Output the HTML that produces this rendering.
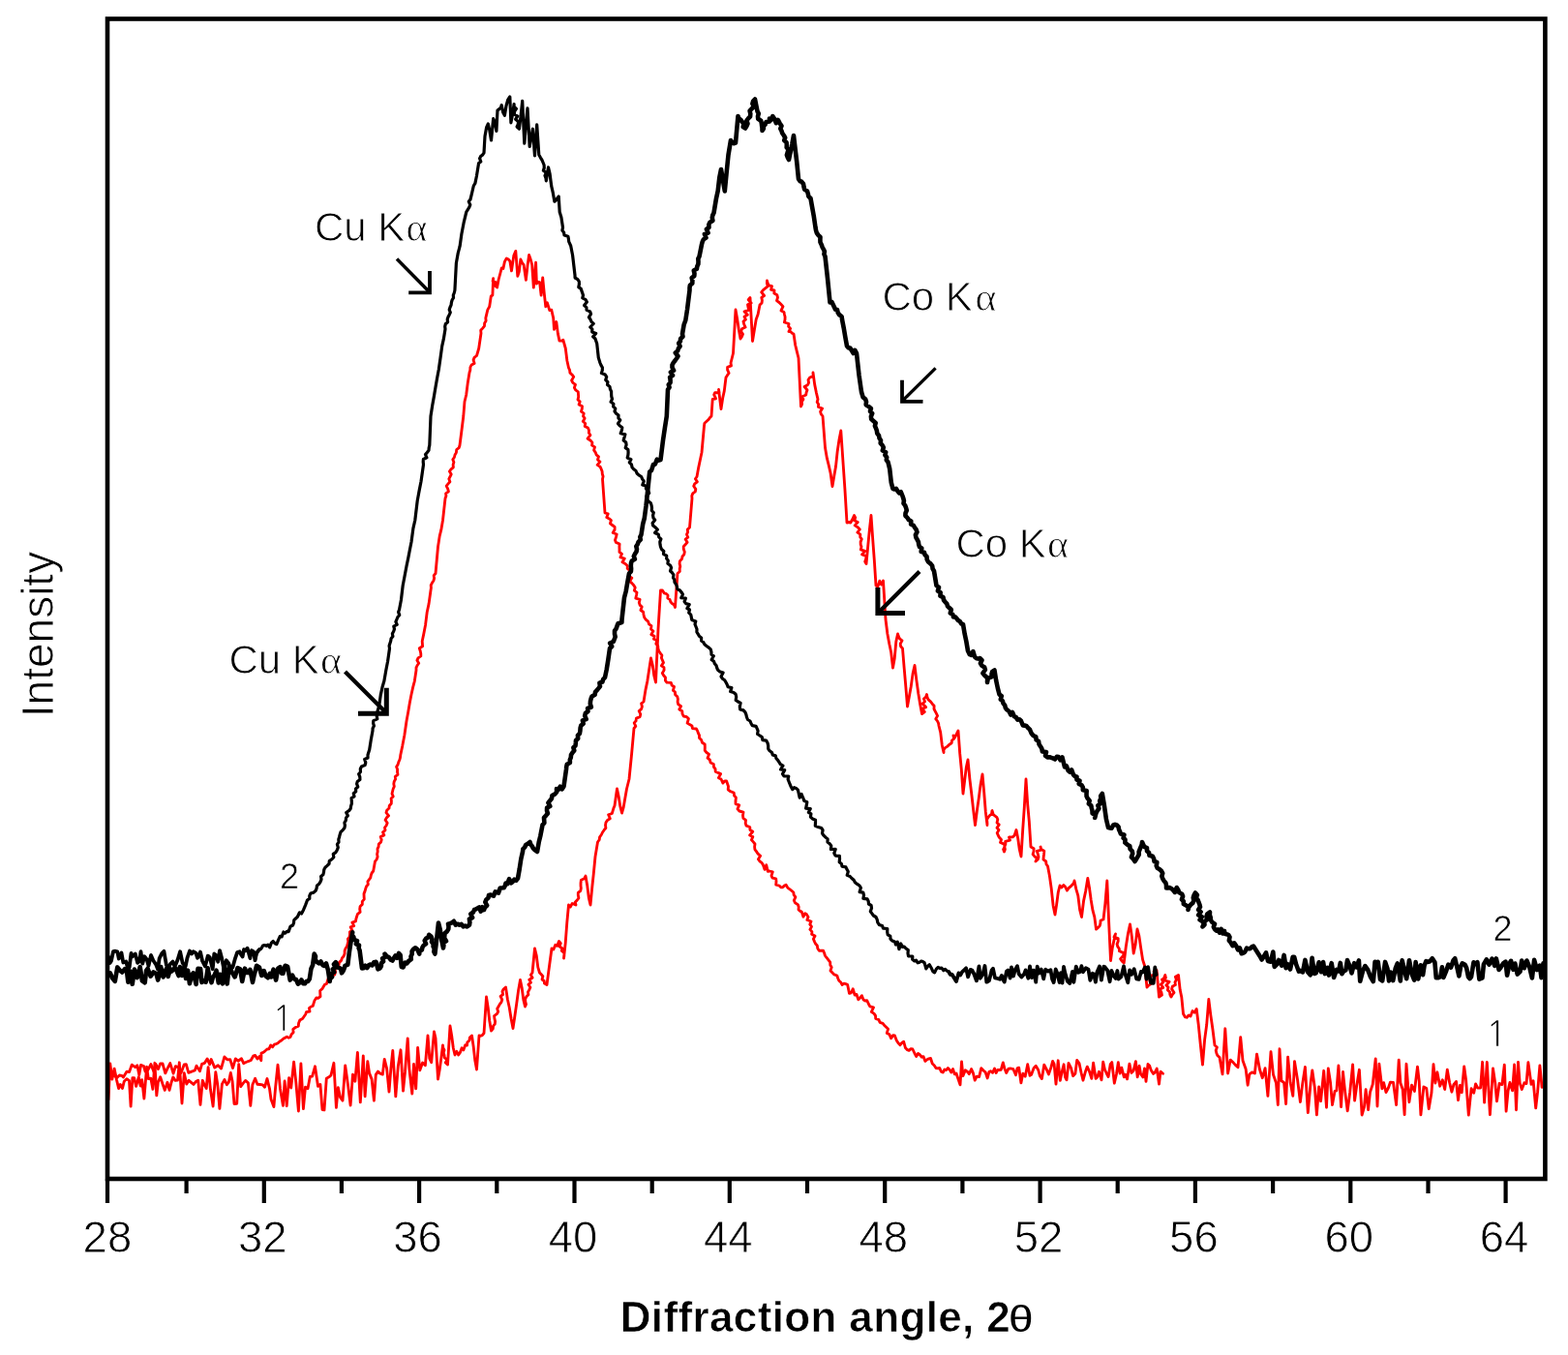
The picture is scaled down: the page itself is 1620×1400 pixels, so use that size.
<!DOCTYPE html>
<html><head><meta charset="utf-8"><style>
html,body{margin:0;padding:0;background:#fff;}
svg{display:block;}
</style></head><body>
<svg width="1620" height="1400" viewBox="0 0 1620 1400">
<rect width="1620" height="1400" fill="#fff"/>
<g fill="none" stroke-linejoin="round" stroke-linecap="round">
<path d="M112.0,1136.2 113.8,1098.9 115.8,1115.1 118.1,1104.1 120.6,1116.1 122.6,1124.6 124.3,1120.5 126.5,1124.5 128.3,1117.2 130.9,1114.8 133.5,1116.4 135.1,1143.1 136.9,1113.7 138.6,1113.6 140.6,1122.4 143.3,1112.8 145.2,1122.0 146.7,1115.7 148.9,1135.0 151.6,1102.3 153.3,1114.6 155.8,1114.1 157.9,1125.4 159.9,1098.3 161.8,1131.8 163.3,1118.3 165.6,1112.8 168.1,1120.3 170.3,1126.4 173.0,1118.3 175.0,1126.4 177.0,1118.5 178.8,1112.9 181.1,1116.4 183.5,1116.2 185.3,1097.8 188.0,1140.0 190.3,1108.7 192.8,1120.1 195.1,1116.3 197.5,1118.3 200.0,1120.4 202.3,1117.6 204.7,1116.2 207.0,1141.3 209.3,1116.3 211.0,1120.6 213.2,1124.6 215.1,1102.6 217.5,1125.8 220.1,1143.0 222.8,1107.7 224.8,1120.6 226.9,1145.3 229.4,1120.1 232.0,1115.5 234.4,1120.7 236.3,1118.2 238.3,1108.5 240.1,1117.4 242.0,1140.5 244.7,1140.3 246.7,1099.6 248.7,1122.7 251.3,1119.1 253.6,1116.4 256.4,1118.9 258.8,1142.4 260.9,1120.7 263.6,1114.2 265.9,1120.3 268.6,1120.5 271.3,1120.8 273.5,1123.3 276.0,1114.5 278.5,1124.8 280.0,1135.8 282.9,1143.6 284.6,1123.7 287.0,1100.2 289.5,1124.9 292.4,1142.3 294.1,1117.0 296.2,1142.7 298.6,1113.6 300.7,1124.0 303.6,1097.2 305.9,1119.3 308.4,1148.0 310.9,1098.9 313.4,1145.6 315.5,1123.1 318.0,1124.8 320.3,1112.4 322.6,1112.1 325.5,1101.8 328.5,1122.3 330.9,1120.4 333.0,1146.5 335.0,1146.9 337.3,1114.2 340.3,1112.6 342.0,1110.9 344.9,1098.3 347.4,1144.3 349.3,1123.6 351.6,1133.9 354.0,1137.2 356.7,1100.9 359.7,1122.4 362.1,1142.0 364.5,1110.2 366.9,1117.2 369.4,1087.4 372.3,1138.8 375.3,1090.9 377.1,1132.8 379.8,1096.6 381.6,1108.9 384.1,1115.1 386.4,1137.2 388.3,1110.4 390.5,1107.1 392.4,1108.9 395.3,1110.1 397.2,1094.4 399.6,1103.8 402.0,1128.0 403.9,1103.7 405.8,1085.5 408.8,1132.9 411.3,1101.8 414.0,1084.8 416.5,1127.1 418.5,1107.4 421.2,1072.9 422.9,1104.8 425.8,1130.0 427.5,1099.5 429.7,1124.8 431.6,1082.4 433.8,1105.8 436.6,1098.0 439.4,1100.7 442.0,1069.9 443.8,1093.7 445.7,1097.7 448.5,1066.0 450.0,1072.5 452.5,1115.0 454.2,1105.3 455.8,1093.5 457.5,1080.0 457.8,1082.6 459.0,1084.9 458.2,1087.8 459.0,1090.2 459.3,1092.8 462.0,1094.8 460.3,1097.9 462.5,1100.0 465.0,1060.0 466.7,1070.2 468.3,1082.7 470.0,1090.0 471.8,1086.3 473.6,1090.0 475.4,1087.4 477.1,1082.8 478.9,1084.9 480.7,1079.8 482.5,1080.0 482.8,1077.0 484.9,1074.9 485.4,1072.1 487.5,1070.0 489.2,1081.6 490.8,1095.8 492.5,1105.0 495.0,1070.0 496.7,1070.3 498.3,1069.6 500.0,1067.5 502.5,1030.0 504.2,1041.0 505.8,1055.0 507.5,1065.0 509.3,1062.8 509.6,1060.2 511.3,1058.0 511.6,1055.3 510.9,1052.4 510.6,1049.6 513.3,1047.7 514.7,1045.3 513.7,1042.3 515.0,1040.0 516.3,1037.6 518.0,1035.4 518.8,1032.9 517.1,1029.4 519.7,1027.5 519.0,1024.4 520.2,1022.0 522.5,1020.0 524.4,1032.5 526.2,1040.8 528.1,1052.5 530.0,1062.5 531.9,1049.7 533.8,1036.5 535.6,1023.3 537.5,1012.5 539.2,1020.8 540.8,1032.9 542.5,1040.0 543.5,1037.6 542.8,1034.8 542.7,1032.2 543.8,1029.8 545.9,1027.7 545.5,1025.0 546.8,1022.6 547.9,1020.2 546.0,1017.2 548.5,1015.1 546.8,1012.2 550.1,1010.2 548.4,1007.3 550.0,1005.0 552.5,980.0 554.2,987.0 555.8,999.4 557.5,1005.0 559.2,1006.8 560.9,1008.7 560.0,1012.0 562.2,1013.5 562.5,1016.1 565.0,1017.5 566.7,1004.4 568.3,992.5 570.0,980.0 571.9,980.9 573.8,976.3 575.6,977.3 577.5,972.5 579.3,974.7 577.8,977.8 580.8,979.7 580.3,982.5 582.8,984.5 582.9,987.2 582.5,990.0 584.2,974.3 585.8,953.1 587.5,935.0 589.4,936.9 591.2,933.5 593.1,934.1 595.0,935.0 594.2,932.2 596.3,930.0 597.9,927.8 597.3,925.0 597.3,922.4 599.8,920.3 600.3,917.8 600.0,915.1 600.0,912.5 600.4,909.2 603.7,907.7 605.0,905.0 606.7,914.7 608.3,927.7 610.0,935.0 611.7,917.5 613.3,902.6 615.0,885.0 617.5,870.0 619.2,867.7 619.6,864.8 621.3,862.5 622.5,860.0 624.1,857.7 625.9,855.5 625.5,852.5 626.0,849.8 627.5,847.5 630.3,845.8 628.6,841.8 632.3,840.5 633.1,837.8 633.9,835.1 635.0,832.5 637.5,815.0 639.2,823.0 640.8,833.2 642.5,840.0 644.2,834.0 645.8,824.7 647.5,815.0 650.0,805.0 652.5,780.0 655.0,752.5 656.8,750.3 655.2,746.9 657.1,744.8 657.4,742.1 661.1,740.6 661.8,738.0 660.2,734.6 662.6,732.6 663.4,730.1 662.6,726.9 665.0,725.0 666.9,713.1 668.8,704.0 670.6,692.1 672.5,680.0 674.2,687.0 675.8,698.2 677.5,705.0 680.0,650.0 682.5,610.0 684.4,610.0 686.2,612.8 688.1,613.3 690.0,615.0 689.8,618.0 692.0,619.4 692.8,621.8 694.5,623.7 696.6,625.2 697.5,627.5 700.0,592.5 702.3,590.5 702.2,587.7 702.8,585.2 702.1,582.3 702.4,579.7 704.5,577.6 705.0,575.0 706.8,572.8 707.3,570.3 706.3,567.4 706.2,564.7 708.2,562.5 710.1,560.3 708.2,557.2 710.8,555.2 709.5,552.2 710.6,549.8 710.3,547.1 712.5,545.0 715.0,515.0 714.8,512.3 715.7,509.9 718.3,507.9 718.8,505.4 716.7,502.3 717.7,499.9 720.4,497.8 718.4,494.8 720.0,492.5 721.7,483.1 723.3,475.5 725.0,467.5 727.5,440.0 727.9,437.2 729.8,435.5 731.7,433.8 733.2,431.8 735.0,430.0 736.2,412.5 739.6,411.8 737.7,407.8 738.6,405.7 743.1,405.7 742.5,402.5 745.0,422.5 746.7,411.2 748.3,403.9 750.0,390.0 751.5,387.7 753.1,385.5 751.6,382.2 751.6,379.4 755.5,377.9 755.0,375.0 757.5,365.0 760.0,320.0 761.7,329.7 763.3,340.5 765.0,350.0 766.5,347.7 767.5,345.3 765.6,342.2 766.6,339.8 770.1,338.0 768.7,335.0 768.0,332.2 770.4,330.2 769.0,327.2 772.3,325.3 769.1,321.9 773.8,320.4 773.0,317.6 772.5,314.8 776.1,313.0 773.2,309.7 775.0,307.5 777.5,352.5 779.4,340.8 781.2,329.9 783.1,324.8 785.0,315.0 787.1,312.9 787.4,310.3 786.8,307.4 789.6,305.5 786.7,301.9 788.5,299.7 791.0,297.7 793.4,295.7 792.4,292.7 792.5,290.0 793.2,292.6 794.3,294.9 797.5,295.7 796.6,299.4 800.0,300.0 799.8,303.0 802.8,304.7 803.5,307.3 802.5,310.6 805.0,312.5 807.0,314.6 809.0,316.7 807.0,320.9 810.0,322.5 810.5,325.0 811.1,327.5 811.0,330.2 810.4,333.0 815.0,334.5 814.6,337.3 816.6,339.4 815.0,342.5 816.7,342.6 818.3,344.2 820.0,345.0 821.7,356.5 823.3,363.2 825.0,370.0 827.5,420.0 828.6,417.6 828.4,414.9 829.9,412.6 829.0,409.7 832.7,408.0 833.1,405.4 834.0,403.0 831.1,399.5 834.5,397.7 835.6,395.4 835.0,392.5 836.7,390.0 840.1,388.7 840.0,385.0 841.7,397.4 843.3,405.3 845.0,412.5 844.2,415.4 845.7,417.7 845.4,420.5 849.6,422.0 847.6,425.3 848.3,427.8 850.0,430.0 852.5,462.5 854.4,473.4 856.2,480.7 858.1,489.0 860.0,502.5 861.8,491.8 863.5,482.1 865.2,466.2 867.0,454.2 868.8,445.0 870.8,474.5 872.9,505.1 875.0,540.0 876.9,539.5 878.8,540.0 880.6,536.8 882.5,532.5 883.7,534.8 882.7,537.7 886.2,539.5 883.2,542.9 886.2,544.8 888.3,547.0 885.9,550.1 888.8,552.1 888.7,554.8 890.3,557.0 889.1,559.9 889.2,562.6 890.0,565.0 889.3,567.9 893.6,569.4 890.6,572.9 894.7,574.5 894.8,577.1 893.7,580.2 895.0,582.5 896.7,564.6 898.3,547.8 900.0,532.5 901.7,557.2 903.3,578.6 905.0,605.0 906.9,606.1 908.8,600.2 910.6,604.0 912.5,600.0 915.0,640.0 916.9,655.0 918.8,665.3 920.6,673.7 922.5,690.0 924.2,680.6 925.8,662.9 927.5,655.0 928.3,657.5 929.5,659.9 932.0,661.8 930.2,665.2 930.6,667.8 932.5,670.0 934.2,690.7 935.8,709.2 937.5,730.0 939.4,719.5 941.2,709.5 943.1,695.9 945.0,687.5 946.9,702.9 948.8,716.5 950.6,727.4 952.5,737.5 955.3,735.5 953.0,732.3 956.6,730.6 953.0,727.0 955.5,725.0 954.5,722.1 956.7,719.9 957.5,717.5 958.0,720.4 959.1,722.9 961.4,724.9 963.2,727.2 965.1,729.3 965.0,732.5 966.2,734.9 967.4,737.2 968.6,739.6 966.8,742.8 968.5,745.0 969.6,747.4 970.0,750.0 971.7,756.7 973.3,770.0 975.0,777.5 975.0,774.6 976.5,772.6 979.0,771.1 980.8,769.2 983.2,767.7 983.5,765.0 985.6,763.3 985.0,760.0 986.7,761.7 988.3,758.4 990.0,755.0 991.7,778.4 993.3,794.8 995.0,820.0 996.7,806.0 998.3,792.8 1000.0,785.0 1001.9,804.8 1003.8,820.5 1005.6,836.7 1007.5,852.5 1009.4,837.5 1011.2,825.1 1013.1,810.4 1015.0,800.0 1016.7,818.6 1018.3,838.9 1020.0,852.5 1019.9,849.7 1019.6,846.8 1021.0,844.5 1022.7,842.3 1026.0,840.6 1025.0,837.5 1024.6,840.5 1027.2,842.4 1029.8,844.3 1030.8,846.8 1030.0,850.0 1032.2,852.1 1030.0,855.3 1032.0,857.5 1030.2,860.6 1031.2,863.0 1032.4,865.3 1034.5,867.5 1033.5,870.4 1037.4,872.1 1038.1,874.5 1036.6,877.6 1037.5,880.0 1038.4,877.5 1037.8,874.6 1038.9,872.1 1038.7,869.3 1043.5,868.1 1042.5,865.0 1044.4,864.8 1046.2,864.8 1048.1,863.2 1050.0,857.5 1051.7,866.2 1053.3,877.7 1055.0,885.0 1056.7,857.4 1058.3,834.2 1060.0,805.0 1061.7,831.1 1063.3,848.7 1065.0,875.0 1068.1,876.8 1068.0,879.6 1067.1,882.6 1068.9,884.8 1071.4,886.8 1070.0,890.0 1072.3,888.0 1073.0,885.4 1072.3,882.4 1071.3,879.3 1075.9,878.1 1075.0,875.0 1075.8,877.6 1078.8,879.3 1078.6,882.2 1078.2,885.2 1078.0,888.1 1080.7,890.0 1080.9,892.7 1082.5,895.0 1084.4,905.1 1086.2,917.9 1088.1,935.7 1090.0,945.0 1091.7,934.1 1093.3,921.8 1095.0,915.0 1096.9,917.0 1098.8,914.5 1100.6,916.3 1102.5,920.0 1103.8,917.9 1105.8,916.2 1107.5,914.4 1109.3,912.6 1110.0,910.0 1111.9,918.9 1113.8,925.3 1115.6,939.9 1117.5,947.5 1119.6,930.6 1121.7,920.6 1123.8,907.5 1125.5,917.2 1127.2,929.9 1129.0,940.7 1130.8,947.4 1132.5,960.0 1134.6,958.4 1136.2,956.6 1136.9,953.9 1137.1,951.0 1140.0,950.0 1141.9,933.3 1143.8,910.0 1145.6,952.0 1147.5,992.5 1149.2,979.8 1150.8,972.1 1152.5,965.0 1151.0,968.2 1155.2,969.6 1155.2,972.4 1154.1,975.4 1154.7,977.9 1156.3,980.2 1156.5,982.8 1160.5,984.4 1160.9,987.0 1157.6,990.6 1159.1,992.9 1161.2,995.0 1163.3,978.0 1165.4,964.7 1167.5,955.0 1169.4,967.9 1171.2,985.0 1173.1,975.9 1175.0,960.0 1176.9,967.1 1178.8,980.1 1180.6,991.6 1182.5,997.5 1185.0,1020.0 1186.8,1018.1 1189.2,1016.6 1187.8,1012.9 1188.6,1010.4 1189.2,1007.9 1193.6,1007.5 1192.1,1003.7 1195.0,1002.5 1197.5,1030.0 1200.4,1028.1 1199.9,1025.3 1198.1,1022.1 1201.7,1020.4 1199.4,1017.1 1201.7,1015.0 1200.5,1012.0 1204.4,1010.4 1203.8,1007.5 1202.6,1010.5 1203.2,1013.0 1208.1,1014.4 1204.9,1018.0 1207.0,1020.1 1206.4,1022.9 1208.6,1025.0 1208.8,1027.7 1210.0,1030.0 1211.3,1027.6 1213.0,1025.5 1210.6,1021.9 1211.3,1019.3 1214.4,1017.6 1214.0,1014.7 1215.4,1012.3 1214.4,1009.3 1217.5,1007.5 1219.2,1022.8 1220.8,1030.4 1222.5,1047.5 1224.4,1050.8 1226.2,1051.2 1228.1,1049.0 1230.0,1050.0 1232.1,1044.5 1234.2,1046.2 1236.2,1042.5 1238.3,1059.3 1240.4,1080.3 1242.5,1100.0 1244.6,1074.4 1246.7,1058.8 1248.8,1032.5 1250.8,1048.6 1252.9,1063.3 1255.0,1080.0 1257.4,1082.0 1256.2,1085.3 1256.8,1088.0 1257.8,1090.5 1260.0,1092.5 1263.0,1109.8 1265.8,1062.8 1268.6,1109.0 1271.2,1095.1 1273.6,1097.3 1276.2,1100.1 1279.0,1102.8 1281.7,1071.7 1284.0,1095.7 1287.1,1104.4 1289.1,1121.2 1290.9,1109.9 1293.6,1107.9 1296.4,1109.0 1298.5,1089.1 1301.5,1105.0 1304.3,1113.7 1307.1,1103.6 1309.9,1132.3 1313.0,1086.7 1315.5,1110.3 1318.5,1119.1 1320.3,1141.5 1322.0,1083.8 1323.9,1116.8 1326.6,1118.5 1328.6,1140.5 1330.6,1092.1 1333.1,1118.3 1335.8,1132.3 1337.5,1096.6 1340.6,1116.0 1343.4,1138.5 1345.7,1119.9 1348.4,1102.4 1351.3,1149.6 1354.1,1118.9 1355.8,1105.9 1358.4,1124.3 1360.4,1151.8 1362.6,1123.0 1364.6,1137.7 1367.7,1106.3 1370.5,1144.2 1372.3,1103.9 1374.5,1118.2 1376.5,1141.6 1379.1,1127.3 1380.9,1126.8 1382.9,1101.0 1385.6,1143.6 1387.5,1107.5 1389.7,1128.3 1392.2,1147.9 1394.7,1128.7 1397.6,1100.0 1399.6,1137.1 1401.7,1121.7 1404.4,1105.3 1407.1,1152.0 1409.4,1144.2 1411.1,1125.6 1413.6,1146.5 1415.5,1128.5 1418.2,1120.4 1421.2,1093.9 1423.0,1143.0 1424.9,1099.2 1427.9,1124.8 1429.6,1118.6 1432.0,1128.6 1434.4,1124.0 1436.4,1118.2 1439.5,1118.5 1442.6,1141.5 1445.2,1095.2 1446.9,1119.0 1449.2,1125.4 1451.1,1151.7 1453.0,1099.3 1455.9,1138.7 1458.5,1121.2 1461.4,1127.5 1464.5,1102.2 1466.2,1116.9 1467.9,1151.9 1470.9,1122.9 1473.8,1124.6 1476.2,1145.7 1479.0,1129.0 1481.0,1099.6 1482.9,1119.1 1484.9,1107.8 1487.7,1122.2 1490.3,1115.7 1492.7,1125.5 1495.3,1105.2 1497.6,1118.5 1499.9,1128.2 1501.9,1120.6 1504.5,1117.4 1506.5,1136.7 1508.4,1121.5 1510.2,1128.8 1512.7,1101.9 1514.6,1115.9 1517.3,1152.1 1520.1,1124.7 1522.7,1129.2 1524.6,1119.9 1526.7,1124.1 1529.6,1124.0 1531.6,1097.3 1533.6,1139.1 1536.3,1097.5 1539.4,1151.7 1542.5,1104.0 1544.8,1119.4 1546.5,1137.8 1549.1,1119.5 1551.9,1120.6 1554.3,1100.1 1556.1,1148.2 1558.1,1127.1 1559.9,1118.5 1562.6,1126.9 1564.6,1100.0 1566.5,1146.8 1568.5,1097.4 1570.2,1119.0 1572.3,1125.6 1574.9,1118.8 1577.0,1119.6 1578.9,1097.6 1582.0,1120.3 1584.1,1116.7 1586.7,1144.9 1588.6,1128.2 1590.9,1100.9 1593.1,1123.4" stroke="#ff0000" stroke-width="2.85"/>
<path d="M112.0,1110.3 113.6,1109.1 116.1,1108.9 117.9,1111.5 121.1,1113.3 123.4,1111.0 125.7,1111.3 127.4,1112.9 130.9,1107.2 133.6,1107.5 136.2,1100.1 139.8,1102.7 141.8,1100.8 143.8,1110.6 145.5,1100.4 148.5,1101.5 150.1,1107.0 152.8,1105.7 155.9,1099.6 159.2,1107.9 160.9,1099.4 163.5,1104.5 165.6,1099.0 168.0,1099.0 170.8,1108.8 172.7,1104.6 175.8,1098.6 179.1,1109.2 181.4,1101.7 184.7,1102.9 187.1,1108.5 190.3,1099.8 192.3,1099.6 194.8,1108.4 198.0,1107.2 201.3,1106.0 203.0,1101.2 206.5,1106.7 208.6,1099.4 211.5,1098.3 214.1,1093.9 216.6,1099.8 218.2,1094.5 221.8,1103.1 225.3,1100.8 228.5,1104.1 231.9,1091.9 234.8,1094.8 237.8,1094.7 240.5,1103.6 243.3,1093.9 246.0,1096.2 249.5,1093.8 251.7,1098.7 253.5,1097.8 257.1,1096.3 259.2,1095.5 261.9,1090.8 263.7,1090.4 265.9,1094.1 268.0,1091.6 269.8,1095.7 270.0,1088.0 272.0,1087.3 274.0,1085.8 276.0,1084.0 277.9,1083.8 279.7,1079.9 281.6,1081.8 283.4,1079.2 285.3,1078.6 287.1,1077.8 289.0,1076.0 290.8,1075.0 292.7,1073.3 294.5,1072.2 296.3,1071.3 298.2,1072.2 300.0,1071.4 301.1,1068.8 303.1,1066.8 302.8,1063.3 305.3,1061.5 308.3,1060.1 308.6,1057.0 309.8,1054.1 312.6,1052.5 314.3,1050.0 315.7,1048.0 316.5,1045.6 320.0,1045.0 319.4,1041.6 321.4,1040.0 323.2,1039.5 325.0,1033.7 326.8,1031.0 328.6,1031.4 331.0,1029.6 330.8,1026.5 330.7,1023.5 333.0,1021.6 334.3,1019.3 335.7,1017.0 337.5,1016.3 339.3,1010.5 341.1,1009.1 342.9,1008.6 345.7,1007.1 346.5,1004.4 346.1,1001.0 348.1,999.0 350.0,997.0 350.5,994.4 352.6,992.4 353.4,989.9 355.2,987.8 356.1,985.3 356.1,982.5 357.0,980.0 358.5,977.8 359.1,975.3 359.8,972.9 359.4,970.2 361.1,968.0 361.5,965.5 361.4,962.9 363.8,961.2 362.2,957.8 365.7,956.6 363.9,953.1 367.4,951.9 367.9,949.4 368.6,947.0 369.5,944.4 372.1,942.4 371.7,939.3 372.1,936.5 374.3,934.4 374.3,931.4 376.3,929.1 376.1,926.3 376.0,923.4 377.0,920.9 377.7,918.3 378.6,915.7 380.3,913.8 379.9,910.9 381.3,908.8 382.8,906.8 383.3,904.3 384.1,902.0 385.7,900.0 387.5,890.0 389.2,887.8 390.1,885.3 389.6,882.5 390.2,879.9 390.0,877.2 391.1,874.8 391.3,872.1 393.5,870.1 394.2,867.6 393.2,864.6 396.8,862.9 395.5,859.8 398.0,857.8 397.5,855.0 399.2,852.8 400.2,850.3 398.1,847.3 399.4,844.9 401.6,842.8 399.0,839.6 399.7,837.2 402.0,835.0 402.3,832.5 404.3,830.3 404.4,827.7 404.1,825.0 406.2,822.9 405.0,820.0 405.6,817.5 406.2,815.0 407.3,812.6 406.8,809.9 407.2,807.4 408.6,805.1 408.3,802.4 411.0,800.3 410.5,797.6 410.6,795.0 409.6,792.2 411.1,789.9 411.8,787.4 412.9,785.0 413.5,782.6 413.8,780.0 415.8,770.6 417.9,759.5 420.0,745.0 421.7,735.8 423.3,726.3 425.0,717.5 426.7,709.9 428.3,703.8 430.0,692.5 430.0,689.9 431.1,687.5 432.7,685.2 430.9,682.3 432.0,679.9 434.8,677.9 434.8,675.2 434.2,672.5 433.3,669.7 436.6,667.8 436.4,665.1 436.2,662.5 437.9,654.4 439.6,645.4 441.2,632.5 443.1,623.6 445.0,610.0 445.4,607.4 445.2,604.7 446.4,602.3 447.9,600.0 448.6,597.5 448.2,594.7 450.0,592.5 452.5,565.0 454.2,553.9 455.8,547.4 457.5,537.5 460.0,515.0 460.9,512.6 460.6,509.9 463.4,507.9 462.7,505.1 461.2,502.1 463.0,499.9 464.9,497.7 463.8,494.8 465.0,492.5 466.2,490.1 464.4,487.1 466.0,484.8 468.4,482.8 468.1,480.1 468.9,477.6 467.8,474.8 469.4,472.5 470.0,470.0 471.4,467.6 471.7,464.6 474.2,462.7 475.0,460.0 476.9,445.2 478.8,430.0 480.0,415.0 481.7,408.0 483.3,395.4 485.0,385.0 485.8,382.4 485.9,379.5 487.1,377.0 490.1,375.4 489.1,371.9 490.1,369.4 492.5,367.5 494.7,360.0 497.0,344.3 496.7,341.3 498.7,339.1 500.5,336.8 500.6,334.0 502.1,331.5 501.8,328.6 503.8,320.1 505.7,316.8 507.3,306.0 508.9,305.0 509.6,287.7 509.1,290.7 512.6,291.9 511.4,295.2 513.6,297.0 515.2,288.5 516.7,283.0 518.3,276.9 519.9,277.5 521.4,270.4 523.3,266.9 525.3,268.0 526.9,269.9 528.5,279.9 530.8,264.1 532.8,259.4 534.8,285.3 536.3,280.7 537.9,268.0 539.5,271.6 541.1,273.6 543.4,289.3 545.0,274.8 546.6,263.4 548.2,268.0 549.7,273.6 551.3,297.1 553.6,271.2 554.4,293.2 556.0,291.3 557.6,291.6 559.1,305.0 560.7,286.9 562.3,303.4 563.8,316.8 565.4,312.8 567.8,320.7 569.8,320.2 571.7,328.6 572.5,340.3 574.8,332.5 576.4,344.6 578.0,352.1 580.0,352.2 581.9,351.3 584.3,360.0 585.9,372.8 587.5,380.0 588.6,382.4 588.9,385.1 591.1,387.2 592.7,389.4 590.6,393.0 591.8,395.4 594.5,397.3 593.4,400.5 594.6,402.9 597.3,404.8 597.5,407.5 597.7,410.1 597.0,412.9 599.2,415.0 598.1,417.9 601.5,419.7 601.3,422.4 600.4,425.2 603.2,427.2 602.5,430.0 604.1,432.2 602.3,435.5 604.8,437.5 604.2,440.4 607.4,442.1 608.5,444.5 608.4,447.3 609.9,449.6 607.1,453.2 610.0,455.0 611.9,457.1 611.6,460.1 614.5,461.9 613.6,465.1 615.2,467.3 616.1,469.8 618.5,471.8 617.5,475.0 619.9,477.1 617.2,480.4 620.1,482.3 621.2,484.7 622.1,487.1 622.3,489.7 623.1,492.2 622.5,495.0 625.0,530.0 628.2,530.9 626.8,534.6 629.4,535.9 631.4,537.5 630.4,540.9 632.5,542.5 635.1,544.4 635.1,547.2 633.2,550.5 637.2,552.0 636.5,554.9 635.5,558.0 636.3,560.4 640.1,562.0 639.9,564.8 640.0,567.5 640.0,570.4 642.5,572.3 641.0,575.8 645.3,577.0 643.0,580.8 646.0,582.5 648.2,584.5 648.2,587.4 650.6,589.3 650.0,592.5 649.9,595.3 652.8,597.1 650.7,600.6 652.9,602.6 654.8,604.8 656.2,607.1 655.3,610.2 658.0,612.1 657.5,615.0 656.8,618.1 661.1,619.4 660.3,622.5 661.1,625.1 663.2,627.1 661.9,630.5 664.6,632.3 665.0,635.0 665.6,637.8 667.2,640.1 669.6,642.1 670.5,644.8 673.0,646.6 672.5,650.0 674.9,652.0 672.8,655.6 676.1,657.2 675.5,660.3 678.9,661.8 677.8,665.1 679.7,667.3 680.0,670.0 680.6,672.5 682.2,674.8 683.9,677.0 683.4,679.8 684.4,682.2 685.5,684.6 683.4,687.8 686.0,689.7 686.1,692.4 684.3,695.5 685.6,697.8 687.5,700.0 687.4,703.2 688.9,705.2 693.3,705.4 694.1,708.0 696.5,709.5 695.4,713.3 697.5,715.0 697.6,717.7 699.8,719.8 700.4,722.4 700.1,725.2 700.8,727.8 703.6,729.6 701.8,733.0 704.8,734.8 705.0,737.5 706.2,740.0 709.5,740.7 711.4,742.6 710.1,747.1 712.5,748.6 715.0,750.0 715.4,752.6 719.4,753.0 720.6,755.1 721.4,757.5 722.5,759.7 722.5,762.5 724.6,764.6 725.5,767.2 728.2,769.0 728.3,772.1 728.2,775.3 730.0,777.5 732.6,779.3 731.0,783.2 733.4,785.2 734.1,788.0 737.3,789.5 737.5,792.5 739.0,794.4 739.2,797.1 741.9,798.4 744.6,799.6 742.4,803.7 745.0,805.0 746.9,809.1 748.8,807.0 750.6,807.0 752.5,812.5 752.2,815.8 754.5,817.7 758.2,819.0 758.6,822.0 760.4,824.2 760.0,827.5 760.0,830.6 763.7,831.9 762.0,835.9 763.9,838.0 768.0,839.1 767.5,842.5 767.9,845.4 770.5,847.3 770.2,850.5 771.1,853.2 774.7,854.5 775.0,857.5 777.7,859.3 774.6,863.0 777.8,864.6 776.4,867.8 778.3,869.9 780.0,872.0 779.6,874.9 779.9,877.6 781.6,879.9 783.1,882.2 785.6,884.3 783.4,887.7 785.0,890.0 786.7,891.1 788.3,893.4 790.0,898.4 791.7,893.7 793.3,900.4 795.0,900.0 798.3,900.9 797.0,904.8 798.1,907.2 801.7,907.9 802.0,910.8 801.7,914.1 805.0,915.0 806.8,916.8 808.6,916.8 810.4,915.1 812.1,914.3 813.9,917.4 815.7,918.6 817.5,920.0 819.8,922.0 820.2,924.7 821.9,926.9 820.3,930.3 821.4,932.8 824.3,934.6 825.2,937.1 825.0,940.0 826.7,941.4 828.3,942.1 830.0,947.2 831.7,943.8 833.3,944.6 835.0,947.5 833.9,950.5 838.0,952.0 836.8,955.1 838.5,957.3 836.9,960.4 838.9,962.6 838.6,965.3 842.0,967.1 840.4,970.2 841.4,972.6 842.5,975.0 844.3,977.0 844.8,980.0 846.3,982.2 850.6,982.2 851.6,984.8 852.5,987.5 854.2,989.7 855.9,991.9 857.7,994.2 857.8,997.1 859.2,999.4 858.0,1002.9 860.0,1005.0 861.9,1006.9 864.8,1008.0 865.7,1010.7 866.8,1013.2 868.8,1015.0 870.0,1017.5 871.9,1016.1 873.8,1016.6 875.6,1017.3 877.5,1026.4 879.4,1025.8 881.2,1021.7 883.1,1028.0 885.0,1027.5 886.8,1032.8 888.6,1030.9 890.4,1028.7 892.1,1033.1 893.9,1034.1 895.7,1033.6 897.5,1037.5 898.8,1039.9 902.5,1040.8 900.3,1045.5 902.9,1047.1 904.5,1049.4 904.7,1052.5 908.0,1053.7 909.0,1056.3 912.1,1057.3 913.7,1059.5 915.6,1061.3 917.6,1063.2 916.3,1067.4 918.9,1068.8 920.7,1072.8 922.6,1069.7 924.4,1070.0 926.3,1074.9 928.1,1077.8 930.0,1079.7 931.8,1077.5 933.7,1076.3 935.5,1082.8 937.4,1084.6 939.2,1085.4 941.1,1083.6 942.9,1084.0 944.8,1088.0 946.7,1091.6 948.5,1088.5 950.4,1089.8 952.2,1092.2 954.1,1091.7 955.9,1096.4 957.8,1094.7 959.6,1093.9 961.5,1093.5 963.3,1099.0 965.2,1100.7 967.0,1103.5 968.9,1103.8 970.7,1103.4 972.4,1107.2 974.2,1108.1 975.9,1105.0 977.6,1105.6 979.4,1103.5 981.1,1105.2 982.8,1108.0 984.5,1104.5 986.3,1109.9 988.0,1109.0 992.0,1120.8 993.5,1097.0 994.9,1111.6 997.3,1105.8 999.4,1107.2 1001.3,1109.7 1003.6,1104.6 1005.4,1108.6 1007.2,1116.2 1009.2,1112.1 1011.6,1112.6 1013.8,1103.6 1016.0,1106.0 1018.1,1107.8 1020.2,1114.0 1021.9,1107.5 1023.4,1106.7 1025.5,1108.3 1027.5,1104.1 1029.1,1108.5 1030.7,1105.5 1032.2,1105.5 1034.2,1105.3 1036.3,1097.9 1037.8,1103.7 1039.7,1108.5 1042.0,1104.1 1044.5,1104.0 1046.9,1104.7 1049.5,1110.7 1051.1,1103.6 1052.7,1103.2 1054.9,1118.9 1056.8,1109.2 1059.2,1112.2 1061.7,1099.7 1064.0,1111.3 1065.5,1110.4 1068.1,1103.4 1070.2,1101.3 1072.7,1105.5 1074.3,1111.4 1076.4,1114.6 1078.8,1100.1 1081.0,1104.4 1083.5,1109.9 1085.8,1103.1 1087.6,1096.4 1089.1,1099.3 1091.0,1120.1 1093.2,1095.8 1095.3,1116.4 1097.3,1106.9 1099.1,1099.8 1100.5,1112.9 1102.0,1115.8 1104.0,1098.4 1106.5,1103.3 1108.6,1111.7 1110.9,1109.3 1112.7,1095.4 1115.0,1098.5 1117.1,1108.5 1119.0,1116.2 1121.6,1106.7 1123.3,1102.1 1125.7,1107.5 1127.8,1114.3 1129.6,1098.2 1132.1,1114.4 1133.7,1112.9 1135.5,1107.3 1138.0,1115.8 1139.7,1097.1 1141.4,1105.0 1143.5,1109.5 1145.1,1112.6 1147.2,1099.7 1148.8,1097.6 1151.3,1119.2 1153.5,1109.8 1155.3,1097.7 1157.1,1109.0 1158.8,1103.1 1161.3,1112.9 1162.8,1110.2 1164.6,1114.9 1166.9,1099.1 1168.9,1108.5 1171.1,1106.3 1173.4,1096.6 1175.2,1112.8 1177.1,1101.2 1178.5,1109.6 1180.9,1112.9 1182.5,1103.9 1184.0,1117.4 1186.0,1099.5 1187.6,1101.0 1189.1,1105.4 1191.6,1109.4 1193.5,1107.6 1195.2,1104.1 1197.5,1120.0 1199.0,1107.1 1201.5,1109.3" stroke="#ff0000" stroke-width="2.85"/>
<path d="M112.0,988.5 113.6,995.0 115.0,992.7 117.0,983.2 119.2,982.7 121.3,983.4 122.8,990.5 125.5,984.5 127.3,994.5 130.2,993.5 132.3,1001.5 133.7,999.2 135.5,984.9 137.0,988.2 139.8,985.6 142.1,994.8 144.1,993.0 145.5,983.2 147.2,995.6 149.3,988.3 151.6,991.1 153.5,997.9 156.0,986.9 158.4,992.5 161.2,996.6 163.1,1001.6 164.6,990.4 167.2,985.0 169.4,982.8 171.9,997.3 174.2,999.5 176.1,995.9 178.5,993.6 180.6,998.8 183.6,991.5 186.1,983.2 188.6,994.9 191.7,998.4 193.5,989.7 196.0,982.5 198.1,985.4 199.7,983.2 202.3,984.6 204.1,989.8 207.0,983.6 209.1,993.0 211.9,998.4 214.8,987.6 216.8,989.2 219.7,1001.2 221.3,985.5 223.0,986.7 225.2,993.8 227.0,982.1 229.0,989.4 231.3,1001.1 233.9,992.3 236.3,995.5 237.7,1000.0 240.4,999.5 243.1,989.8 245.1,984.1 247.6,983.2 249.0,986.2 250.6,988.5 252.0,981.0 253.6,982.2 255.6,979.7 258.4,990.1 260.0,982.0 262.0,983.3 263.5,992.2 265.0,985.0 266.5,982.8 268.0,981.0" stroke="#000" stroke-width="3.8"/>
<path d="M263.5,992.2 265.0,985.0 266.5,982.8 268.0,981.0 269.8,980.2 271.6,977.1 273.3,976.5 275.1,977.3 276.9,976.1 278.7,978.8 280.4,974.1 282.2,972.5 284.0,974.7 285.8,975.6 287.5,971.3 289.3,967.3 291.1,967.9 292.9,963.0 294.6,964.2 296.4,962.3 298.2,962.6 300.0,957.2 302.5,956.0 303.5,953.7 303.8,950.7 305.5,949.0 307.4,947.3 309.5,942.8 311.5,944.0 313.6,939.9 315.6,935.1 317.5,930.0 319.8,928.4 319.8,925.4 321.0,923.0 324.1,922.1 326.1,920.3 327.1,917.8 327.5,915.0 329.7,913.3 331.0,911.1 332.0,908.7 331.6,905.5 333.8,903.8 334.5,901.2 334.8,898.4 336.0,896.2 338.1,894.4 340.0,892.5 340.3,889.6 342.9,887.8 344.8,885.7 344.3,882.4 347.0,880.6 348.3,878.2 349.3,875.7 348.4,872.3 350.0,870.0 349.8,867.2 350.6,864.7 351.2,862.2 352.0,859.7 354.2,857.6 355.9,855.4 356.4,852.9 355.9,850.0 357.3,847.7 357.5,845.0 359.4,842.8 357.7,839.5 360.5,837.7 362.2,835.5 362.6,832.8 363.4,830.3 363.3,827.5 363.1,824.6 366.0,822.8 365.3,819.8 367.7,817.8 367.5,815.0 369.8,813.0 368.6,809.9 369.3,807.4 371.9,805.4 371.8,802.7 370.6,799.7 372.5,797.5 372.3,794.5 373.5,792.0 377.1,790.6 377.8,787.9 376.7,784.5 380.0,783.0 380.0,780.0 381.7,774.5 383.3,764.3 385.0,755.0 385.1,752.4 386.4,750.0 385.6,747.2 385.8,744.6 389.8,742.9 389.3,740.1 389.5,737.5 390.0,735.0 391.7,729.3 393.3,717.9 395.0,710.0 396.9,703.5 398.8,692.5 400.6,683.2 402.5,670.0 402.1,667.2 402.9,664.8 403.7,662.3 404.1,659.8 405.9,657.6 405.4,654.8 406.6,652.4 407.5,650.0 406.8,647.2 410.2,645.4 408.9,642.4 409.9,640.0 410.9,637.6 412.7,635.4 411.6,632.4 412.5,630.0 414.4,620.0 416.2,605.0 418.1,595.0 420.0,585.0 421.7,576.9 423.3,568.5 425.0,560.0 426.9,545.9 428.8,537.5 431.2,517.5 433.1,507.1 435.0,497.5 437.5,480.0 437.2,477.2 437.4,474.5 440.9,472.8 439.5,469.6 441.3,467.5 443.0,465.2 443.2,462.6 443.8,460.0 445.0,430.0 446.7,419.0 448.3,410.1 450.0,400.0 451.7,390.3 453.3,381.7 455.0,370.0 456.7,357.6 458.3,350.4 460.0,340.0 459.7,337.3 460.3,334.8 462.6,332.7 462.2,330.0 463.0,327.5 464.2,325.2 465.3,322.8 464.2,320.0 465.0,317.5 466.1,315.1 466.4,312.5 467.1,310.0 468.5,307.7 468.3,305.0 469.3,302.5 469.9,300.0 471.4,271.7 473.2,261.6 475.1,254.4 476.9,241.8 479.3,229.3 481.8,219.0 483.3,216.6 484.8,214.2 485.8,211.7 484.3,208.3 486.0,206.0 487.6,199.4 489.3,192.0 490.9,189.4 492.5,181.5 494.6,168.6 496.8,167.0 495.6,163.7 496.6,161.6 498.7,159.9 500.0,157.9 501.0,140.7 502.6,131.7 504.3,127.9 505.9,134.9 507.5,145.0 509.7,122.5 511.3,126.4 512.9,135.4 514.0,114.0 515.9,112.6 517.6,111.0 518.2,108.6 519.8,116.3 521.4,119.3 523.0,109.2 524.7,103.2 526.8,100.0 527.9,126.8 529.5,118.4 531.1,107.5 531.1,110.2 533.4,112.4 531.3,115.5 531.6,118.1 534.7,120.1 532.7,123.2 535.2,125.4 535.4,128.1 534.1,131.0 536.4,133.2 538.0,120.7 539.7,104.3 541.8,148.2 543.4,128.0 545.0,111.8 547.2,151.4 548.8,141.9 550.4,133.2 552.5,161.0 554.7,128.9 556.8,160.0 558.4,162.8 560.0,165.4 561.1,168.0 562.1,170.5 562.3,173.3 561.4,176.3 564.4,178.4 563.0,181.5 564.0,184.1 564.3,186.8 566.5,172.9 568.1,179.7 569.7,192.2 571.3,199.2 572.9,208.2 574.7,206.7 575.8,204.7 577.2,202.9 578.2,219.0 579.9,224.4 581.5,235.0 580.9,238.1 582.6,240.3 583.0,243.0 586.9,244.2 587.4,246.9 587.7,249.7 589.7,254.0 591.6,263.8 594.0,284.2 594.1,287.0 596.8,288.6 598.3,290.8 598.4,293.6 597.8,296.6 600.2,298.4 602.5,305.0 601.8,307.9 605.1,309.7 606.4,312.0 603.6,315.6 605.9,317.6 606.1,320.3 609.6,321.9 610.5,324.4 608.4,327.8 610.0,330.0 611.0,332.4 613.2,334.5 609.8,338.0 611.9,340.2 611.7,342.9 615.7,344.5 612.7,347.9 615.0,350.0 616.7,354.9 618.3,369.6 620.0,375.0 621.0,377.4 622.4,379.8 622.3,382.6 621.4,385.6 625.2,387.1 626.7,389.4 625.7,392.5 627.9,394.6 627.5,397.5 630.0,399.5 630.4,402.1 631.6,404.4 631.6,407.1 631.8,409.8 632.5,412.3 631.1,415.3 633.9,417.2 633.6,420.0 635.8,422.1 635.0,425.0 636.6,427.2 639.0,429.1 638.9,431.9 640.8,434.0 638.5,437.7 640.2,439.8 642.8,441.7 642.4,444.6 641.2,447.8 645.9,448.9 645.0,452.0 644.2,454.9 646.7,457.0 647.1,459.6 646.2,462.6 648.9,464.6 649.1,467.3 648.9,470.1 648.2,473.0 651.9,474.7 650.3,477.9 652.5,480.0 653.0,482.8 654.7,484.8 657.0,486.5 658.0,489.0 660.0,490.9 662.6,492.5 663.6,494.9 665.2,497.1 663.8,501.0 667.2,502.1 667.5,505.0 669.7,507.1 670.7,509.5 667.8,512.9 668.3,515.4 669.8,517.7 672.3,519.7 673.1,522.2 673.5,524.8 673.3,527.5 675.3,529.6 674.6,532.4 675.0,535.0 676.7,537.2 674.1,540.5 674.7,543.1 677.3,545.1 679.3,547.2 676.6,550.5 680.3,552.3 680.7,554.8 682.9,556.9 681.8,559.9 682.0,562.5 682.5,565.0 683.5,567.5 685.8,569.5 685.5,572.5 688.7,574.1 688.6,577.1 690.3,579.3 689.9,582.3 692.5,584.2 693.6,586.6 692.5,590.0 694.5,591.8 695.9,593.9 695.5,596.9 696.8,599.0 697.0,601.6 698.5,603.7 699.4,606.0 699.8,608.6 702.5,610.0 704.1,612.0 705.5,614.1 703.8,617.7 708.4,618.1 707.1,621.6 708.6,623.6 712.2,624.6 709.9,628.5 712.5,630.0 711.7,633.2 713.8,635.2 714.3,637.9 714.8,640.5 718.8,641.9 718.0,645.0 719.0,647.5 720.0,650.0 719.9,653.0 721.2,655.1 722.4,657.3 724.6,659.0 724.6,661.9 726.7,663.6 727.9,665.8 730.0,667.5 732.3,669.1 734.2,670.9 734.9,673.4 735.0,676.1 737.3,677.8 735.2,681.6 737.5,683.2 738.3,685.6 740.0,687.5 740.7,690.0 741.7,692.3 743.8,694.0 747.1,695.1 745.0,699.1 746.5,701.2 748.7,702.8 750.0,705.0 751.2,707.3 752.1,709.8 755.9,710.6 754.6,714.5 758.0,715.5 760.1,717.3 760.7,720.0 760.2,723.4 762.5,725.0 765.1,726.5 764.3,730.1 764.7,732.9 768.1,733.9 769.9,735.8 770.9,738.3 771.5,741.0 772.5,743.5 775.0,745.0 776.0,747.5 777.3,749.7 781.0,750.3 782.1,752.6 783.1,755.1 782.6,758.5 785.0,760.0 787.3,761.6 787.9,764.6 791.6,765.2 793.0,767.5 793.7,770.3 793.7,773.6 795.2,775.8 797.5,777.5 798.3,780.0 801.3,780.9 801.9,783.5 803.6,785.4 805.0,787.5 806.3,789.6 808.9,791.1 806.6,795.0 810.7,795.7 808.5,799.6 809.8,801.8 814.8,802.0 814.1,805.2 815.0,807.5 816.9,812.2 818.8,815.6 820.6,813.7 822.5,814.4 824.4,816.1 826.2,824.2 828.1,820.5 830.0,825.0 830.8,827.4 833.8,828.8 833.3,831.9 832.6,835.1 837.3,835.6 835.4,839.3 837.9,840.9 837.4,844.0 839.4,845.9 842.5,847.2 842.5,850.0 842.3,853.2 845.3,854.4 848.6,855.5 850.1,857.6 849.5,861.1 851.0,863.2 853.0,865.1 855.1,866.9 855.0,870.0 857.2,871.8 858.8,873.9 858.4,877.5 863.2,877.4 861.8,881.6 863.1,884.1 867.4,884.3 867.5,887.5 867.2,890.8 869.4,892.5 870.0,895.2 873.9,895.9 875.0,898.3 876.3,900.6 875.2,904.3 878.2,905.5 880.0,907.5 882.1,909.3 883.4,911.7 885.6,913.4 888.0,915.0 889.4,917.3 888.1,921.6 891.8,922.2 892.5,925.0 891.9,928.3 896.1,928.9 897.2,931.2 897.5,934.0 900.1,935.5 900.5,938.2 899.3,941.8 900.9,943.9 902.4,946.0 905.0,947.5 906.2,950.1 906.8,953.1 908.3,955.4 911.5,956.5 912.5,959.2 916.8,959.5 916.7,963.0 917.2,965.8 919.8,967.2 920.0,970.2 921.9,972.1 924.8,973.3 925.4,976.0 927.2,973.1 928.9,980.7 930.7,975.0 932.5,978.4 934.2,978.1 936.0,980.0 938.3,981.6 938.0,985.0 938.5,987.8 942.8,988.0 942.7,991.3 944.8,993.0 946.5,992.1 948.2,994.8 950.0,994.2 951.7,993.0 953.4,993.6 955.1,994.7 956.8,1000.9 958.6,998.3 960.3,996.8 962.0,999.7 963.8,1003.6 965.6,1004.9 967.4,1001.1 969.2,999.3 971.0,1000.3 972.9,1000.1 974.7,1002.7 976.5,1001.3 978.3,1003.1 980.1,1003.9 981.9,1006.9 983.7,1007.0 988.0,1014.0" stroke="#000" stroke-width="3.2"/>
<path d="M980.1,1003.9 981.9,1006.9 983.7,1007.0 988.0,1014.0 990.4,1005.4 992.3,1007.4 994.1,1004.1 995.4,1003.0 998.1,1000.3 1000.1,1009.3 1002.7,1001.9 1004.3,1002.5 1006.2,1006.0 1008.9,1013.3 1011.5,998.4 1012.7,1010.8 1015.4,1006.5 1017.5,998.0 1019.3,1014.7 1021.9,1013.4 1024.6,1002.5 1026.0,1000.8 1028.0,1010.3 1030.7,1011.0 1033.0,1011.8 1034.9,1007.9 1036.2,1012.1 1037.7,1014.6 1040.0,1003.5 1041.4,1002.5 1043.6,1010.6 1045.0,999.3 1047.0,1008.5 1048.8,1002.0 1051.0,998.2 1052.7,1006.3 1055.4,1009.6 1058.0,1006.6 1059.6,1002.4 1062.3,1010.7 1064.0,998.4 1066.0,1010.1 1067.9,1002.6 1070.2,1014.7 1071.7,998.6 1073.5,1005.6 1075.8,1001.6 1078.2,1011.3 1080.2,1001.7 1083.0,1003.6 1085.5,1002.2 1087.1,1011.7 1088.7,1015.1 1090.7,1001.4 1092.3,1005.5 1094.6,1015.1 1096.0,1005.1 1097.5,1015.5 1099.0,998.9 1100.3,1005.1 1102.9,1013.9 1105.3,1016.0 1108.0,1003.9 1109.4,1014.8 1111.8,998.6 1114.1,1004.8 1115.9,1004.0 1117.4,998.1 1119.0,1004.3 1121.8,1000.2 1124.5,1001.7 1126.3,1012.8 1128.8,1005.8 1130.1,1006.5 1131.9,1014.6 1133.4,1004.6 1136.0,998.5 1137.9,1012.6 1140.3,998.7 1141.5,999.1 1144.2,1002.6 1146.6,1014.2 1148.3,1002.9 1151.1,1009.1 1152.7,1010.9 1154.4,1003.0 1155.6,1011.6 1158.3,1009.4 1161.0,998.4 1162.6,1006.6 1165.3,1015.2 1167.1,1002.5 1169.0,1006.9 1171.7,1001.3 1174.2,1011.3 1176.7,1011.9 1178.9,1003.9 1180.6,1004.5 1183.0,999.4 1184.5,1011.6 1186.1,999.2 1187.4,1007.9 1189.1,1015.6 1191.7,1015.8 1193.3,999.5 1194.7,1007.0" stroke="#000" stroke-width="3.8"/>
<path d="M112.0,1005.9 113.7,1005.3 116.1,1010.5 118.8,1013.9 121.3,999.4 124.1,1002.9 126.4,1004.5 129.0,1001.0 130.8,1001.9 132.4,1014.7 134.7,1003.5 136.7,1016.8 138.9,1001.6 141.7,1010.1 144.7,999.0 146.9,1013.4 149.7,1015.3 151.1,1002.9 152.6,1000.8 155.6,1008.7 158.6,1004.4 161.4,1006.0 163.2,1012.6 166.2,999.1 168.6,1009.4 170.3,1004.4 171.8,1001.1 173.6,1009.0 176.1,1001.1 177.4,1003.5 179.9,1000.7 181.8,1001.1 184.5,1008.0 185.9,999.0 188.0,1008.0 190.4,998.8 192.0,1010.9 194.1,1002.7 195.9,1016.1 197.8,1008.3 199.7,1005.3 202.6,1016.9 204.5,1000.9 207.1,1001.1 208.5,1015.0 210.5,1013.4 212.6,1014.7 214.7,1000.3 216.0,1008.0 218.5,1015.2 220.0,1009.4 221.9,1007.1 223.5,1002.7 225.8,1015.5 227.3,1006.8 230.0,1016.3 231.7,999.5 234.7,1016.5 236.8,998.1 239.8,1004.8 242.7,1009.4 245.5,1000.2 248.2,1001.4 250.2,1013.9 253.0,1000.7 254.7,1005.0 256.9,1004.7 258.4,1001.9 261.0,1014.9 262.4,1008.2 265.1,997.8 267.9,999.4 270.3,1008.0 272.7,1003.1 274.7,1008.7 276.8,1010.2 278.9,1005.8 280.3,1009.4 282.5,1001.7 285.1,1012.6 287.2,1000.6 289.4,999.1 290.9,1005.6 292.4,1005.8 294.6,997.8 297.1,998.6 299.7,1012.6 300.0,1009.0 302.0,1007.6 304.0,1011.5 305.9,1012.0 307.9,1016.7 309.9,1015.2 311.5,1012.4 313.2,1016.1 314.9,1016.3 316.5,1014.1 318.1,1014.0 319.8,1011.5 321.4,1001.0 323.1,997.1 324.7,985.6 326.0,988.0 325.7,991.2 327.0,993.6 329.6,995.4 331.5,993.4 333.3,997.1 335.1,998.0 337.0,995.4 338.9,1002.1 340.7,1014.0 341.0,1011.4 343.1,1009.3 341.9,1006.2 345.2,1004.5 343.8,1001.4 346.4,999.5 344.9,996.3 346.9,994.2 348.1,996.4 348.0,999.4 351.5,1000.4 352.5,1002.7 353.0,1005.3 354.6,1003.2 355.6,1000.6 356.4,997.9 359.3,996.7 360.9,983.7 362.6,972.4 364.2,963.3 363.7,966.2 365.4,968.2 365.7,970.8 369.0,972.2 367.9,975.3 371.0,976.7 370.6,979.6 371.6,981.9 374.0,1000.4 375.8,1000.3 377.5,997.8 379.3,1000.0 381.1,997.2 382.9,996.5 384.6,997.4 386.4,994.2 388.5,993.9 390.5,1001.3 392.6,1000.4 393.9,998.1 393.9,995.3 396.1,993.3 395.1,990.3 398.4,988.6 397.5,985.6 399.6,988.1 401.6,988.8 403.7,991.7 405.4,992.5 407.0,989.7 408.6,987.3 410.3,989.9 412.0,984.9 413.6,986.8 414.8,999.1 416.6,999.5 418.5,994.6 420.4,995.4 422.2,993.0 424.8,991.2 424.5,988.2 425.7,985.8 425.6,982.8 427.2,980.6 429.2,979.3 431.3,981.1 433.3,985.6 433.3,982.8 435.9,981.4 436.4,978.9 437.7,976.8 440.1,975.2 438.7,971.8 440.1,969.8 442.6,968.2 443.2,965.8 445.6,967.8 446.5,970.2 446.0,973.1 447.7,975.3 447.6,978.0 448.8,980.4 448.3,983.2 449.4,985.6 451.2,970.1 453.0,953.5 454.7,960.4 456.3,971.5 458.0,979.4 458.4,976.9 457.7,974.2 461.0,972.3 459.1,969.3 459.3,966.8 459.6,964.3 462.0,962.2 463.3,959.9 463.5,957.4 463.0,954.7 465.0,954.1 466.9,953.3 468.9,951.8 470.8,955.6 472.8,954.7 474.7,955.6 476.7,954.9 478.6,957.3 480.6,956.6 482.5,957.5 485.0,955.6 485.4,952.8 484.9,949.6 488.1,948.1 486.3,944.4 489.0,942.5 490.0,940.0 491.7,939.4 493.3,938.4 495.0,937.4 496.7,941.7 498.3,937.1 500.0,940.0 501.0,937.6 503.2,935.5 501.3,932.1 502.3,929.7 504.5,927.6 505.0,925.0 506.7,924.6 508.3,925.0 510.0,925.6 511.7,921.4 513.3,921.8 515.0,922.5 515.9,920.1 516.7,917.5 520.6,917.3 521.8,915.1 522.5,912.5 524.3,913.1 526.1,908.1 527.9,912.4 529.6,911.1 531.4,908.7 533.2,909.7 535.0,907.5 536.7,898.0 538.3,887.5 540.0,880.0 540.4,877.1 542.2,875.4 543.2,873.0 545.5,871.6 547.5,870.0 548.3,872.5 549.9,874.4 551.0,876.7 552.9,878.5 555.0,880.0 556.7,870.3 558.3,863.7 560.0,855.0 560.5,852.4 562.4,850.3 562.2,847.5 562.0,844.8 564.1,842.6 565.9,840.5 565.0,837.5 565.1,834.6 568.3,833.0 566.4,829.4 568.2,827.2 570.0,825.0 570.4,822.1 573.3,820.4 575.2,818.2 575.0,815.0 576.9,815.9 578.8,812.7 580.6,815.4 582.5,812.5 585.0,795.0 585.2,792.3 585.8,789.7 588.9,788.0 588.8,785.1 589.8,782.7 590.0,780.0 591.4,777.7 593.3,775.5 592.4,772.5 594.5,770.4 594.8,767.7 595.0,765.0 597.2,763.0 596.9,759.9 598.9,757.8 599.4,755.1 599.6,752.2 600.3,749.6 602.7,747.7 601.9,744.4 605.7,743.1 604.2,739.5 604.9,736.8 607.5,735.0 607.1,732.0 610.8,730.5 609.8,727.3 610.0,724.5 610.6,721.9 611.6,719.4 614.7,717.7 615.0,715.0 616.8,713.1 618.4,711.1 620.0,709.0 619.4,705.6 622.4,704.5 623.2,701.9 625.0,700.0 626.7,691.9 628.3,681.9 630.0,670.0 632.2,667.9 630.2,664.5 633.8,662.9 634.7,660.5 635.7,658.0 635.0,655.0 635.0,651.9 636.6,649.5 637.5,646.9 638.5,644.3 642.4,643.1 642.5,640.0 645.0,617.5 646.7,611.0 648.3,601.6 650.0,592.5 651.9,590.4 652.1,587.6 651.8,584.8 652.0,582.0 652.8,579.5 655.9,577.8 654.8,574.7 656.0,572.3 657.5,570.0 658.0,567.4 657.3,564.5 658.8,562.3 659.6,559.8 661.8,557.7 661.3,554.9 662.5,552.5 664.2,541.4 665.8,535.3 667.5,522.5 669.4,505.0 671.2,487.5 673.1,485.9 675.0,480.0 676.9,479.5 678.8,474.7 680.6,475.7 682.5,475.0 685.0,455.0 686.9,442.1 688.8,430.0 690.0,402.5 691.6,400.2 690.7,397.4 692.6,395.2 692.6,392.5 692.1,389.8 695.0,387.8 692.9,384.6 696.1,382.8 694.5,379.7 694.5,377.1 695.8,374.7 697.5,372.5 699.1,370.2 700.5,368.0 697.8,364.5 700.2,362.5 700.9,360.0 702.6,357.8 701.2,354.7 702.9,352.5 703.1,349.9 705.5,347.8 705.0,345.0 706.7,335.2 708.3,331.0 710.0,320.0 712.5,300.0 712.5,297.3 712.9,294.7 715.3,292.7 715.4,290.0 714.7,287.1 717.3,285.1 717.5,282.5 716.8,279.6 719.9,277.8 720.3,275.2 721.4,272.8 721.5,270.1 721.3,267.4 722.5,265.0 725.0,252.5 725.7,249.9 726.8,247.4 729.5,245.6 727.9,241.9 731.6,240.6 729.9,236.8 732.5,235.0 732.3,232.2 733.4,229.7 736.4,228.0 735.8,225.0 736.3,222.4 737.5,220.0 740.0,205.0 741.7,197.3 743.3,183.4 745.0,175.0 746.9,186.0 748.8,197.5 750.6,178.9 752.5,160.0 755.0,145.0 756.7,147.4 758.3,148.2 760.0,147.5 762.5,120.0 763.3,122.4 765.5,123.9 766.8,125.9 768.6,127.7 767.7,131.1 770.0,132.5 771.4,130.2 772.5,127.8 771.4,124.6 773.1,122.4 775.1,120.3 775.3,117.6 774.6,114.6 776.5,112.5 778.8,110.4 777.4,107.2 778.1,104.6 780.0,102.5 782.5,115.0 783.8,117.3 783.0,120.2 783.2,122.8 786.2,124.7 786.8,127.2 787.1,129.8 787.5,132.3 787.5,135.0 788.8,133.0 789.0,130.2 790.7,128.4 791.5,126.1 795.2,125.5 795.0,122.5 796.7,123.9 798.3,120.1 800.0,122.5 801.9,127.1 803.8,123.9 805.6,127.4 807.5,130.0 806.3,132.9 807.5,135.2 808.3,137.7 809.9,140.0 811.2,142.3 810.2,145.1 812.6,147.2 812.8,149.8 812.7,152.4 814.5,154.6 813.7,157.4 812.9,160.2 813.8,162.6 815.0,165.0 816.7,156.7 818.3,149.1 820.0,140.0 821.7,154.8 823.3,167.9 825.0,185.0 826.7,187.3 828.3,187.8 830.0,190.0 830.5,192.9 831.2,195.7 834.0,197.4 834.8,200.1 835.4,202.9 837.5,205.0 839.2,214.5 840.8,223.4 842.5,235.0 843.0,237.9 843.8,240.6 845.4,242.9 847.5,245.0 847.4,247.7 847.5,250.3 848.7,252.7 849.5,255.1 850.8,257.5 851.9,259.8 851.4,262.6 852.5,265.0 855.0,287.5 857.5,312.5 859.4,312.0 861.2,315.8 863.1,319.8 865.0,320.0 865.6,322.8 867.1,325.2 869.6,327.1 870.0,330.0 871.7,338.7 873.3,348.1 875.0,357.5 876.7,359.5 878.3,359.5 880.0,362.3 881.7,365.1 883.3,361.8 885.0,365.0 887.5,387.5 890.0,405.0 890.8,407.7 891.6,410.4 894.1,412.3 895.0,415.0 894.7,418.3 897.5,420.0 899.9,422.0 899.0,425.0 901.2,427.1 899.9,430.3 900.2,433.0 902.4,435.0 904.7,437.0 903.9,440.1 905.0,442.5 905.9,445.1 906.3,447.8 908.0,450.0 908.5,452.7 910.0,455.0 909.7,457.9 911.6,460.0 912.8,462.4 911.8,465.5 915.2,467.2 914.4,470.2 916.2,472.4 915.8,475.3 917.5,477.5 919.2,484.4 920.8,498.7 922.5,505.0 924.2,505.4 925.8,504.8 927.5,507.4 929.2,509.4 930.8,508.3 932.5,512.5 933.3,514.9 933.9,517.4 933.5,520.2 935.2,522.4 936.1,524.8 936.8,527.3 935.5,530.2 935.4,532.8 937.5,535.0 938.9,537.1 941.3,538.4 941.1,541.7 943.8,542.8 945.0,545.0 946.6,547.2 947.5,549.7 945.9,552.7 946.4,555.3 947.7,557.6 948.9,560.0 949.2,562.6 950.0,565.0 952.3,566.4 951.7,570.0 954.9,570.7 955.6,573.3 957.5,575.0 957.7,578.0 959.0,580.5 961.4,582.4 963.2,584.7 963.6,587.6 965.0,590.0 967.5,605.0 970.0,606.9 968.9,610.5 971.7,612.3 971.4,615.6 974.5,617.1 975.0,620.0 976.6,622.0 978.3,623.9 979.0,626.4 981.0,628.2 982.8,630.0 981.8,633.5 984.4,634.9 985.0,637.5 986.7,637.2 988.3,638.8 990.0,641.1 991.7,642.1 993.3,644.6 995.0,645.0 996.7,655.1 998.3,662.5 1000.0,672.5 1001.8,676.1 1003.6,676.8 1005.4,673.1 1007.1,678.8 1008.9,680.3 1010.7,680.6 1012.5,680.0 1014.5,682.1 1012.9,685.3 1014.3,687.6 1017.2,689.5 1017.9,692.0 1015.4,695.5 1017.2,697.7 1019.4,699.7 1020.6,702.1 1020.0,705.0 1020.1,702.3 1021.7,700.3 1024.6,699.3 1024.5,696.4 1025.2,693.9 1027.5,692.5 1029.2,703.3 1030.8,710.9 1032.5,717.5 1034.8,719.1 1033.8,722.6 1035.9,724.3 1036.6,726.8 1038.2,728.7 1038.8,731.3 1040.3,733.3 1042.5,735.0 1044.3,738.5 1046.1,736.0 1047.9,740.4 1049.6,740.9 1051.4,743.6 1053.2,743.2 1055.0,745.0 1056.8,749.4 1058.6,749.6 1060.4,750.0 1062.1,752.0 1063.9,753.6 1065.7,757.8 1067.5,760.0 1070.3,761.4 1070.6,764.4 1073.1,766.0 1073.5,769.0 1075.0,771.2 1076.4,773.6 1076.9,776.5 1081.0,777.0 1080.0,780.9 1082.5,782.5 1084.4,782.3 1086.2,782.9 1088.1,783.5 1090.0,784.5 1091.9,781.7 1093.8,782.0 1095.6,785.3 1097.5,782.5 1100.0,792.5 1101.8,791.4 1103.6,796.2 1105.4,797.6 1107.1,795.4 1108.9,800.3 1110.7,802.2 1112.5,802.5 1112.4,805.5 1115.5,806.6 1114.7,809.9 1117.5,811.3 1118.8,813.4 1118.8,816.3 1122.7,817.0 1122.5,820.0 1122.6,822.8 1123.8,825.1 1125.7,827.3 1124.8,830.4 1127.3,832.3 1127.8,835.0 1128.5,837.5 1128.6,840.3 1131.4,842.2 1131.2,845.0 1131.8,842.4 1132.5,839.9 1133.7,837.6 1135.4,835.3 1134.3,832.3 1136.9,830.3 1136.2,827.4 1137.3,825.0 1137.2,822.3 1138.8,820.0 1140.8,831.7 1142.9,846.2 1145.0,855.0 1146.8,855.4 1148.5,855.8 1150.2,852.5 1152.0,851.9 1153.8,852.5 1155.6,854.3 1156.0,856.9 1157.1,859.2 1157.9,861.6 1161.4,862.4 1160.6,865.8 1162.5,867.5 1162.3,870.6 1164.6,872.6 1167.3,874.3 1167.6,877.2 1169.7,879.3 1170.2,882.0 1168.9,885.6 1171.0,887.7 1172.5,890.0 1174.0,887.7 1175.3,885.4 1176.7,883.0 1176.6,880.1 1177.6,877.6 1178.6,875.2 1179.7,872.7 1180.0,870.0 1181.1,872.4 1182.2,874.8 1185.0,876.1 1185.0,879.2 1187.1,881.0 1187.5,883.8 1190.9,884.8 1192.1,887.2 1192.5,890.0 1195.3,891.0 1194.7,894.6 1195.8,896.9 1198.1,898.3 1200.0,900.0 1201.2,902.4 1200.3,905.3 1201.2,907.8 1202.6,910.1 1204.4,912.3 1205.0,914.8 1205.0,917.5 1206.8,917.4 1208.6,917.1 1210.4,918.2 1212.1,919.8 1213.9,921.9 1215.7,917.0 1217.5,920.0 1218.4,922.3 1221.2,923.7 1222.1,926.1 1220.9,929.4 1222.8,931.2 1222.8,934.0 1225.5,935.5 1228.0,937.0 1227.5,940.0 1228.2,937.3 1229.9,935.1 1232.2,933.1 1233.4,930.7 1232.8,927.5 1233.6,924.9 1235.0,922.5 1236.9,924.7 1235.6,927.6 1237.6,929.8 1238.4,932.2 1239.4,934.6 1240.0,937.1 1238.1,940.1 1240.6,942.2 1238.2,945.4 1241.8,947.2 1239.6,950.3 1242.7,952.2 1243.7,954.6 1242.5,957.5 1244.5,955.4 1244.2,952.1 1247.0,950.4 1246.5,947.0 1247.3,944.3 1250.0,942.5 1249.8,945.3 1250.7,947.7 1250.9,950.4 1252.1,952.7 1255.0,954.6 1253.8,957.6 1255.0,960.0 1256.7,961.6 1258.3,960.4 1260.0,963.6 1261.7,959.9 1263.3,964.5 1265.0,962.0 1265.6,964.7 1269.2,965.9 1270.5,968.2 1269.8,971.7 1271.6,973.8 1273.5,977.2 1275.3,974.4 1277.2,977.3 1279.0,981.3 1280.9,979.5 1282.7,985.2 1284.6,984.6 1286.3,983.3 1288.1,979.6 1289.8,980.3 1291.5,980.3 1293.3,978.3 1295.0,977.5 1302.0,988.4 1303.6,991.5 1305.5,988.7 1308.0,984.3 1310.0,993.0 1312.9,993.7 1315.3,983.5 1316.7,998.9 1319.2,996.3 1321.2,992.0 1324.2,997.7 1326.6,986.9 1328.6,1000.2 1330.6,996.2 1333.0,1001.5 1335.7,988.8 1337.1,988.7 1339.1,996.3 1341.9,1003.7 1343.3,1002.9 1346.0,1004.4 1348.4,991.9 1351.2,1004.4 1353.7,1007.4 1355.6,989.7 1357.9,1006.0 1359.6,1005.4 1362.6,994.3 1364.9,1004.2 1367.1,994.0 1368.9,1006.1 1371.6,999.9 1373.0,1007.6 1375.7,995.2 1378.1,1009.9 1380.9,1001.9 1383.1,1003.5 1384.8,994.9 1386.4,1006.2 1388.3,1003.3 1390.4,1002.4 1392.0,992.1 1395.0,999.6 1396.5,1005.4 1399.2,995.1 1401.6,999.4 1403.9,992.4 1405.2,1013.8 1408.1,1002.9 1410.4,998.1 1413.1,1001.9 1416.1,1009.6 1418.8,1014.1 1420.6,993.8 1422.3,996.9 1423.7,993.9 1426.0,1011.9 1428.2,1013.4 1431.1,993.9 1433.5,1001.1 1435.0,1013.4 1436.8,1004.6 1439.2,1013.1 1441.7,1000.6 1443.8,995.3 1446.8,1013.5 1448.6,992.4 1450.3,999.2 1453.2,1011.2 1456.0,992.2 1458.7,1006.7 1461.2,1012.6 1462.6,994.1 1465.3,1011.4 1467.8,997.2 1470.1,1007.2 1471.6,997.5 1473.4,993.1 1475.6,993.9 1477.3,993.3 1479.8,990.3 1482.4,994.2 1483.8,1010.2 1485.5,1010.3 1488.3,1009.1 1489.9,999.3 1491.4,1009.9 1494.2,1003.1 1496.3,996.7 1499.1,999.6 1501.5,992.2 1503.2,990.3 1505.8,1001.3 1507.4,1008.4 1509.2,998.3 1510.8,995.3 1513.6,996.8 1515.2,1000.3 1517.0,1009.4 1518.6,1011.1 1520.0,1009.3 1522.5,994.3 1524.6,996.0 1526.4,994.2 1528.4,1011.7 1531.5,1010.3 1532.9,996.4 1535.8,991.3 1538.4,996.6 1541.5,990.6 1544.2,997.8 1545.8,990.4 1548.6,1002.0 1550.2,1000.1 1553.1,995.4 1555.5,993.7 1557.1,1007.7 1559.7,995.1 1561.1,992.8 1563.5,1001.8 1565.3,995.5 1567.7,1006.6 1570.5,1003.9 1572.2,992.6 1574.8,1000.2 1577.4,992.5 1580.1,998.8 1582.9,1010.5 1585.1,991.9 1588.0,1002.1 1590.9,997.6 1592.5,1010.1 1594.5,995.4" stroke="#000" stroke-width="4.6"/>
</g>
<rect x="111" y="19.5" width="1485.4" height="1198.5" fill="none" stroke="#000" stroke-width="4.6"/>
<g stroke="#000" stroke-width="4.2">
<line x1="111.0" y1="1218" x2="111.0" y2="1243.0"/><line x1="192.6" y1="1218" x2="192.6" y2="1233.0"/><line x1="272.8" y1="1218" x2="272.8" y2="1243.0"/><line x1="352.9" y1="1218" x2="352.9" y2="1233.0"/><line x1="433.1" y1="1218" x2="433.1" y2="1243.0"/><line x1="513.3" y1="1218" x2="513.3" y2="1233.0"/><line x1="593.5" y1="1218" x2="593.5" y2="1243.0"/><line x1="673.7" y1="1218" x2="673.7" y2="1233.0"/><line x1="753.8" y1="1218" x2="753.8" y2="1243.0"/><line x1="834.0" y1="1218" x2="834.0" y2="1233.0"/><line x1="914.2" y1="1218" x2="914.2" y2="1243.0"/><line x1="994.4" y1="1218" x2="994.4" y2="1233.0"/><line x1="1074.6" y1="1218" x2="1074.6" y2="1243.0"/><line x1="1154.7" y1="1218" x2="1154.7" y2="1233.0"/><line x1="1234.9" y1="1218" x2="1234.9" y2="1243.0"/><line x1="1315.1" y1="1218" x2="1315.1" y2="1233.0"/><line x1="1395.3" y1="1218" x2="1395.3" y2="1243.0"/><line x1="1475.5" y1="1218" x2="1475.5" y2="1233.0"/><line x1="1555.6" y1="1218" x2="1555.6" y2="1243.0"/>
</g>
<g font-family="Liberation Sans, Arial, sans-serif" font-size="45.5" text-anchor="middle" fill="#000" stroke="#fff" stroke-width="0.8">
<text x="110.9" y="1294">28</text><text x="271.3" y="1294">32</text><text x="431.6" y="1294">36</text><text x="592.0" y="1294">40</text><text x="752.3" y="1294">44</text><text x="912.7" y="1294">48</text><text x="1073.1" y="1294">52</text><text x="1233.4" y="1294">56</text><text x="1393.8" y="1294">60</text><text x="1554.1" y="1294">64</text>
</g>
<text x="0" y="0" transform="translate(55,655.5) rotate(-90)" font-family="Liberation Sans, Arial, sans-serif" font-size="46" text-anchor="middle" stroke="#fff" stroke-width="0.8">Intensity</text>
<text x="640.7" y="1375.6" font-family="Liberation Sans, Arial, sans-serif" font-size="44" font-weight="bold" letter-spacing="0.37" stroke="#fff" stroke-width="0.6">Diffraction angle, 2</text>
<text transform="translate(1042,1376) scale(1.18,1)" font-family="Liberation Sans, Arial, sans-serif" font-size="39">&#952;</text>
<g font-family="Liberation Sans, Arial, sans-serif" font-size="42" fill="#000" stroke="#fff" stroke-width="0.9">
<text x="325" y="249">Cu K<tspan font-family="Liberation Serif, serif" dx="1">&#945;</tspan></text>
<text x="911.5" y="320.5">Co K<tspan font-family="Liberation Serif, serif" dx="2.5">&#945;</tspan></text>
<text x="987.5" y="576">Co K<tspan font-family="Liberation Serif, serif" dx="1">&#945;</tspan></text>
<text x="236.5" y="696">Cu K<tspan font-family="Liberation Serif, serif" dx="1">&#945;</tspan></text>
</g>
<g font-family="Liberation Sans, Arial, sans-serif" font-size="36" fill="#000" stroke="#fff" stroke-width="0.6">
<text x="289" y="918">2</text>
<text x="281.3" y="1064.5" font-family="NanumGothic, Liberation Sans, sans-serif">1</text>
<text x="1542.5" y="971.8">2</text>
<text x="1535" y="1080.5" font-family="NanumGothic, Liberation Sans, sans-serif">1</text>
</g>
<g fill="none" stroke="#000" stroke-linecap="butt" stroke-linejoin="miter">
<path d="M410,267.5 L442.5,300.5" stroke-width="3.4"/>
<path d="M444,280 L444,302.3 L422.2,302.3" stroke-width="3.8"/>
<path d="M966.6,380.4 L933.5,413" stroke-width="3.2"/>
<path d="M932,392.8 L932,414.8 L953.5,414.8" stroke-width="3.8"/>
<path d="M950,590.5 L908.5,632" stroke-width="4.2"/>
<path d="M906.9,606.9 L906.9,633.5 L935,633.5" stroke-width="5"/>
<path d="M356.5,694 L397.5,735" stroke-width="4.2"/>
<path d="M399.3,710.7 L399.3,737.3 L370,737.3" stroke-width="5"/>
</g>
</svg>
</body></html>
